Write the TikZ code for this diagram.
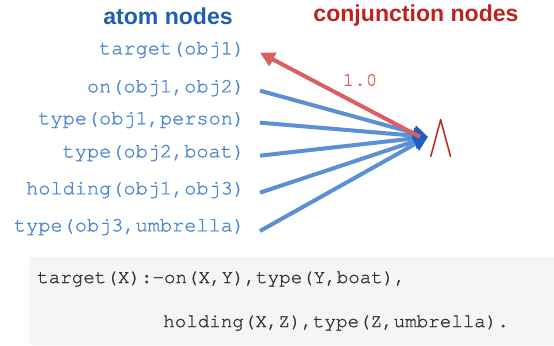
\documentclass[tikz,border=0pt]{standalone}
\usepackage{fontspec}
\setmainfont{Liberation Sans}
\setmonofont[FakeBold=1.2]{TeX Gyre Cursor}
\usetikzlibrary{arrows.meta}
\definecolor{headblue}{HTML}{1F5FAF}
\definecolor{headred}{HTML}{C0201E}
\definecolor{atomblue}{HTML}{4A86D0}
\definecolor{edgeblue}{HTML}{5B8FD6}
\definecolor{tipblue}{HTML}{1F5FBF}
\definecolor{edgered}{HTML}{D9605F}
\definecolor{codegray}{HTML}{F5F5F5}
\definecolor{codetext}{HTML}{333333}
\tikzset{
  header/.style={font=\fontsize{17.3}{20}\selectfont\bfseries, inner sep=0pt},
  atom/.style={font=\fontsize{15.2}{18}\selectfont\ttfamily, text=atomblue, anchor=east, inner xsep=11pt, inner ysep=0pt},
  codeline/.style={font=\fontsize{14.4}{17}\selectfont\ttfamily, text=codetext, anchor=west, inner sep=0pt},
  inedge/.style={draw=edgeblue, line width=3pt, -{Triangle[length=11pt,width=11pt,color=tipblue]}},
  outedge/.style={draw=edgered, line width=3pt, -{Triangle[length=11pt,width=11pt]}},
  weight/.style={font=\fontsize{14.4}{17}\selectfont\ttfamily, text=edgered, inner sep=0pt},
}
\begin{document}
\begin{tikzpicture}[x=0.75pt,y=-0.75pt]
  \useasboundingbox (0,0) rectangle (554,346);
  % rule shown in the shaded panel
  \fill[codegray] (29,257) rectangle (554,345);
  \node[codeline] (r1) at (37,279) {target(X):-on(X,Y),type(Y,boat),};
  \node[codeline] (r2) at (163,323) {holding(X,Z),type(Z,umbrella).};

  % column headings
  \node[header, text=headblue] (hatom) at (168,16) {atom nodes};
  \node[header, text=headred] (hconj) at (416,16) {conjunction nodes};

  % atom nodes
  \node[atom] (a0) at (260,50) {target(obj1)};
  \node[atom] (a1) at (260,88) {on(obj1,obj2)};
  \node[atom] (a2) at (260,120) {type(obj1,person)};
  \node[atom] (a3) at (260,153) {type(obj2,boat)};
  \node[atom] (a4) at (260,190) {holding(obj1,obj3)};
  \node[atom] (a5) at (260,227) {type(obj3,umbrella)};

  % conjunction node
  \node[inner sep=0pt, text=headred, anchor=west] (conj) at (428,139.5)
    {\resizebox{19pt}{26pt}{$\wedge$}};
  \coordinate (tip) at ([yshift=2pt]conj.west);

  % edges into the conjunction
  \draw[inedge] ([yshift=-2pt]a1.east) -- (tip);
  \draw[inedge] ([yshift=-2pt]a2.east) -- (tip);
  \draw[inedge] ([yshift=-2pt]a3.east) -- (tip);
  \draw[inedge] ([yshift=-2pt]a4.east) -- (tip);
  \draw[inedge] ([yshift=-3pt]a5.east) -- (tip);

  % weighted edge to the head atom
  \draw[outedge] ([xshift=-6pt]tip) -- ([yshift=-2pt]a0.east);
  \node[weight] (w) at (360,80) {1.0};
\end{tikzpicture}
\end{document}
